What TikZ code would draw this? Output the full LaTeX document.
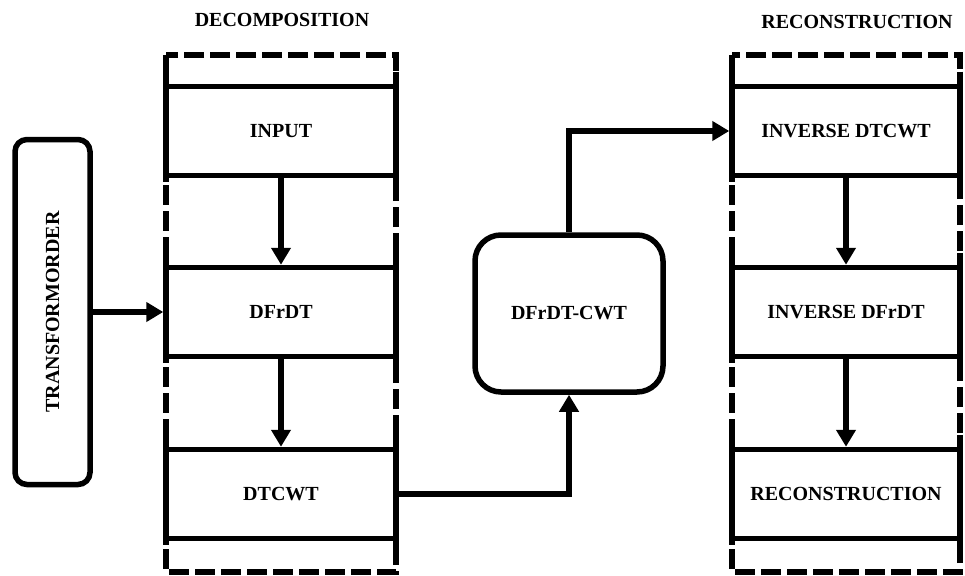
\documentclass[tikz,border=0pt]{standalone}
\usepackage{fontspec}
\setmainfont{Liberation Serif}
\usetikzlibrary{arrows.meta}
\begin{document}
\begin{tikzpicture}[x=1pt,y=-1pt,
  lw/.style={line width=5.5pt},
  txt/.style={font=\fontsize{20}{24}\selectfont\bfseries},
  procbox/.style={lw, draw, minimum width=230pt, minimum height=89pt, txt, inner sep=0pt},
  roundbox/.style={lw, draw, rounded corners=#1, txt},
  group/.style={lw, dashed, dash pattern=on 20pt off 6pt},
  arr/.style={lw, -{Triangle[length=17pt,width=19pt]}}
]
\useasboundingbox (0,0) rectangle (965,575);

% titles
\node[txt] (t1) at (282,20) {DECOMPOSITION};
\node[txt] (t2) at (857,22) {RECONSTRUCTION};

% dashed groups
\draw[group] (166,55) rectangle (396,572);
\draw[group] (732,55) rectangle (960,572);

% left column
\node[procbox] (input) at (281,131) {INPUT};
\node[procbox] (dfrdt) at (281,312) {DFrDT};
\node[procbox] (dtcwt) at (281,494) {DTCWT};

% right column
\node[procbox, minimum width=228pt] (idtcwt) at (846,131) {INVERSE DTCWT};
\node[procbox, minimum width=228pt] (idfrdt) at (846,312) {INVERSE DFrDT};
\node[procbox, minimum width=228pt] (recon) at (846,494) {RECONSTRUCTION};

% side extensions (on the box sides)
\foreach \b in {input,dfrdt,dtcwt,idtcwt,idfrdt,recon}{
  \draw[lw] ([xshift=2.75pt,yshift=12pt]\b.north west) -- ([xshift=2.75pt,yshift=-4pt]\b.south west);
  \draw[lw] ([xshift=-2.75pt,yshift=12pt]\b.north east) -- ([xshift=-2.75pt,yshift=-4pt]\b.south east);
}

% other nodes
\node[roundbox=12pt, minimum width=345pt, minimum height=75pt, rotate=90] (tr) at (52.5,312) {TRANSFORMORDER};
\node[roundbox=26pt, minimum width=188pt, minimum height=157pt] (cwt) at (569,313.5) {DFrDT-CWT};

% connectors
\draw[arr] (tr.south) -- (dfrdt.west);
\draw[arr] (input.south) -- (dfrdt.north);
\draw[arr] (dfrdt.south) -- (dtcwt.north);
\draw[arr] (dtcwt.east) -| (cwt.south);
\draw[arr] (cwt.north) |- (idtcwt.west);
\draw[arr] (idtcwt.south) -- (idfrdt.north);
\draw[arr] (idfrdt.south) -- (recon.north);
\end{tikzpicture}
\end{document}
